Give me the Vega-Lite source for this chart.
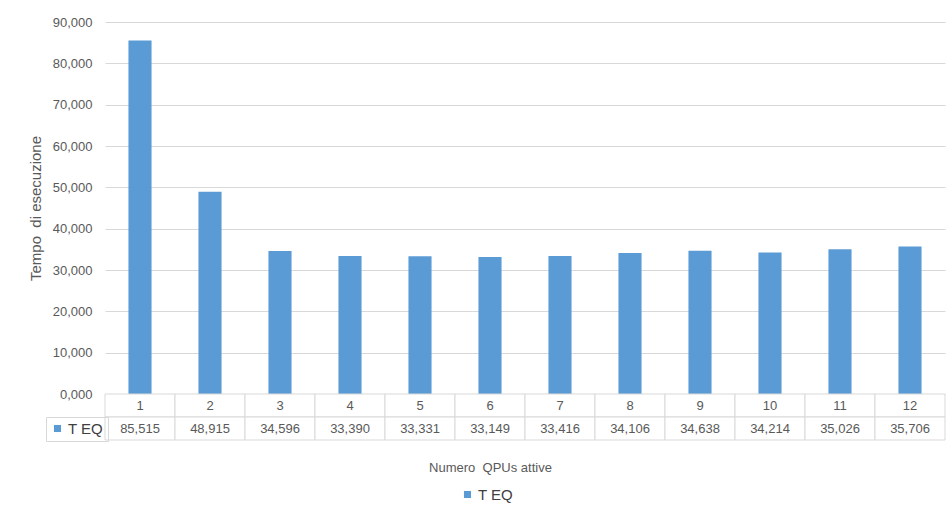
{
  "$schema": "https://vega.github.io/schema/vega-lite/v6.json",
  "autosize": {"type": "pad"},
  "padding": {"left": 28, "top": 16, "right": 5, "bottom": 5},
  "background": "white",
  "bounds": "flush",
  "config": {
    "font": "Liberation Sans",
    "locale": {"number": {"decimal": ",", "thousands": ".", "grouping": [3], "currency": ["", " €"]}},
    "view": {"stroke": null},
    "axis": {"labelColor": "#595959", "titleColor": "#595959", "labelFont": "Liberation Sans", "titleFont": "Liberation Sans", "titleFontWeight": "normal"},
    "legend": {"labelFont": "Liberation Sans"}
  },
  "datasets": {
    "teq": [
      {"n": 1, "t": 85.515, "s": "T EQ"},
      {"n": 2, "t": 48.915, "s": "T EQ"},
      {"n": 3, "t": 34.596, "s": "T EQ"},
      {"n": 4, "t": 33.390, "s": "T EQ"},
      {"n": 5, "t": 33.331, "s": "T EQ"},
      {"n": 6, "t": 33.149, "s": "T EQ"},
      {"n": 7, "t": 33.416, "s": "T EQ"},
      {"n": 8, "t": 34.106, "s": "T EQ"},
      {"n": 9, "t": 34.638, "s": "T EQ"},
      {"n": 10, "t": 34.214, "s": "T EQ"},
      {"n": 11, "t": 35.026, "s": "T EQ"},
      {"n": 12, "t": 35.706, "s": "T EQ"}
    ]
  },
  "data": {"name": "teq"},
  "spacing": 0,
  "resolve": {"scale": {"x": "independent", "y": "independent"}, "legend": {"fill": "independent", "color": "independent"}},
  "vconcat": [
    {
      "width": 840,
      "height": 372,
      "mark": {"type": "bar"},
      "encoding": {
        "x": {"field": "n", "type": "ordinal", "scale": {"paddingInner": 0.67, "paddingOuter": 0.335}, "axis": null},
        "y": {
          "field": "t", "type": "quantitative",
          "scale": {"domain": [0, 90]},
          "axis": {
            "values": [0, 10, 20, 30, 40, 50, 60, 70, 80, 90],
            "format": ".3f",
            "title": "Tempo\u00a0 di esecuzione",
            "grid": true, "gridColor": "#d9d9d9",
            "domain": false, "ticks": false,
            "labelPadding": 13, "labelFontSize": 13,
            "titleFontSize": 15, "titlePadding": 9
          }
        },
        "color": {
          "field": "s", "type": "nominal",
          "scale": {"range": ["#5b9bd5"]},
          "legend": {"title": null, "orient": "none", "legendX": 355, "legendY": 465, "padding": 0, "symbolType": "square", "symbolSize": 50, "labelFontSize": 15, "labelColor": "#404040", "labelOffset": 3}
        }
      }
    },
    {
      "width": 840,
      "height": 46,
      "encoding": {
        "x": {
          "field": "n", "type": "ordinal",
          "scale": {"paddingInner": 0, "paddingOuter": 0},
          "axis": {"title": "Numero\u00a0 QPUs attive", "labels": false, "ticks": false, "domain": false, "titlePadding": 21, "titleFontSize": 13, "titleX": 385}
        }
      },
      "layer": [
        {
          "mark": {"type": "rect", "fill": "white", "stroke": "#d9d9d9", "strokeWidth": 1},
          "encoding": {"y": {"datum": "cat", "type": "nominal", "scale": {"domain": ["cat", "val"], "paddingInner": 0, "paddingOuter": 0}, "axis": null}}
        },
        {
          "mark": {"type": "rect", "fill": "white", "stroke": "#d9d9d9", "strokeWidth": 1},
          "encoding": {"y": {"datum": "val", "type": "nominal"}}
        },
        {
          "mark": {"type": "text", "fontSize": 13, "color": "#595959"},
          "encoding": {"y": {"datum": "cat", "type": "nominal"}, "text": {"field": "n", "type": "ordinal"}}
        },
        {
          "mark": {"type": "text", "fontSize": 13, "color": "#595959"},
          "encoding": {"y": {"datum": "val", "type": "nominal"}, "text": {"field": "t", "type": "quantitative", "format": ".3f"}}
        },
        {
          "mark": {"type": "square", "opacity": 0},
          "encoding": {
            "y": {"datum": "val", "type": "nominal"},
            "fill": {
              "field": "s", "type": "nominal",
              "scale": {"range": ["#5b9bd5"]},
              "legend": {"title": null, "orient": "none", "legendX": -59, "legendY": 23, "symbolType": "square", "symbolSize": 50, "symbolOpacity": 1, "symbolOffset": 0, "labelOffset": 3, "labelFontSize": 15, "labelColor": "#404040", "padding": 4, "strokeColor": "#d9d9d9"}
            }
          }
        }
      ]
    }
  ]
}
